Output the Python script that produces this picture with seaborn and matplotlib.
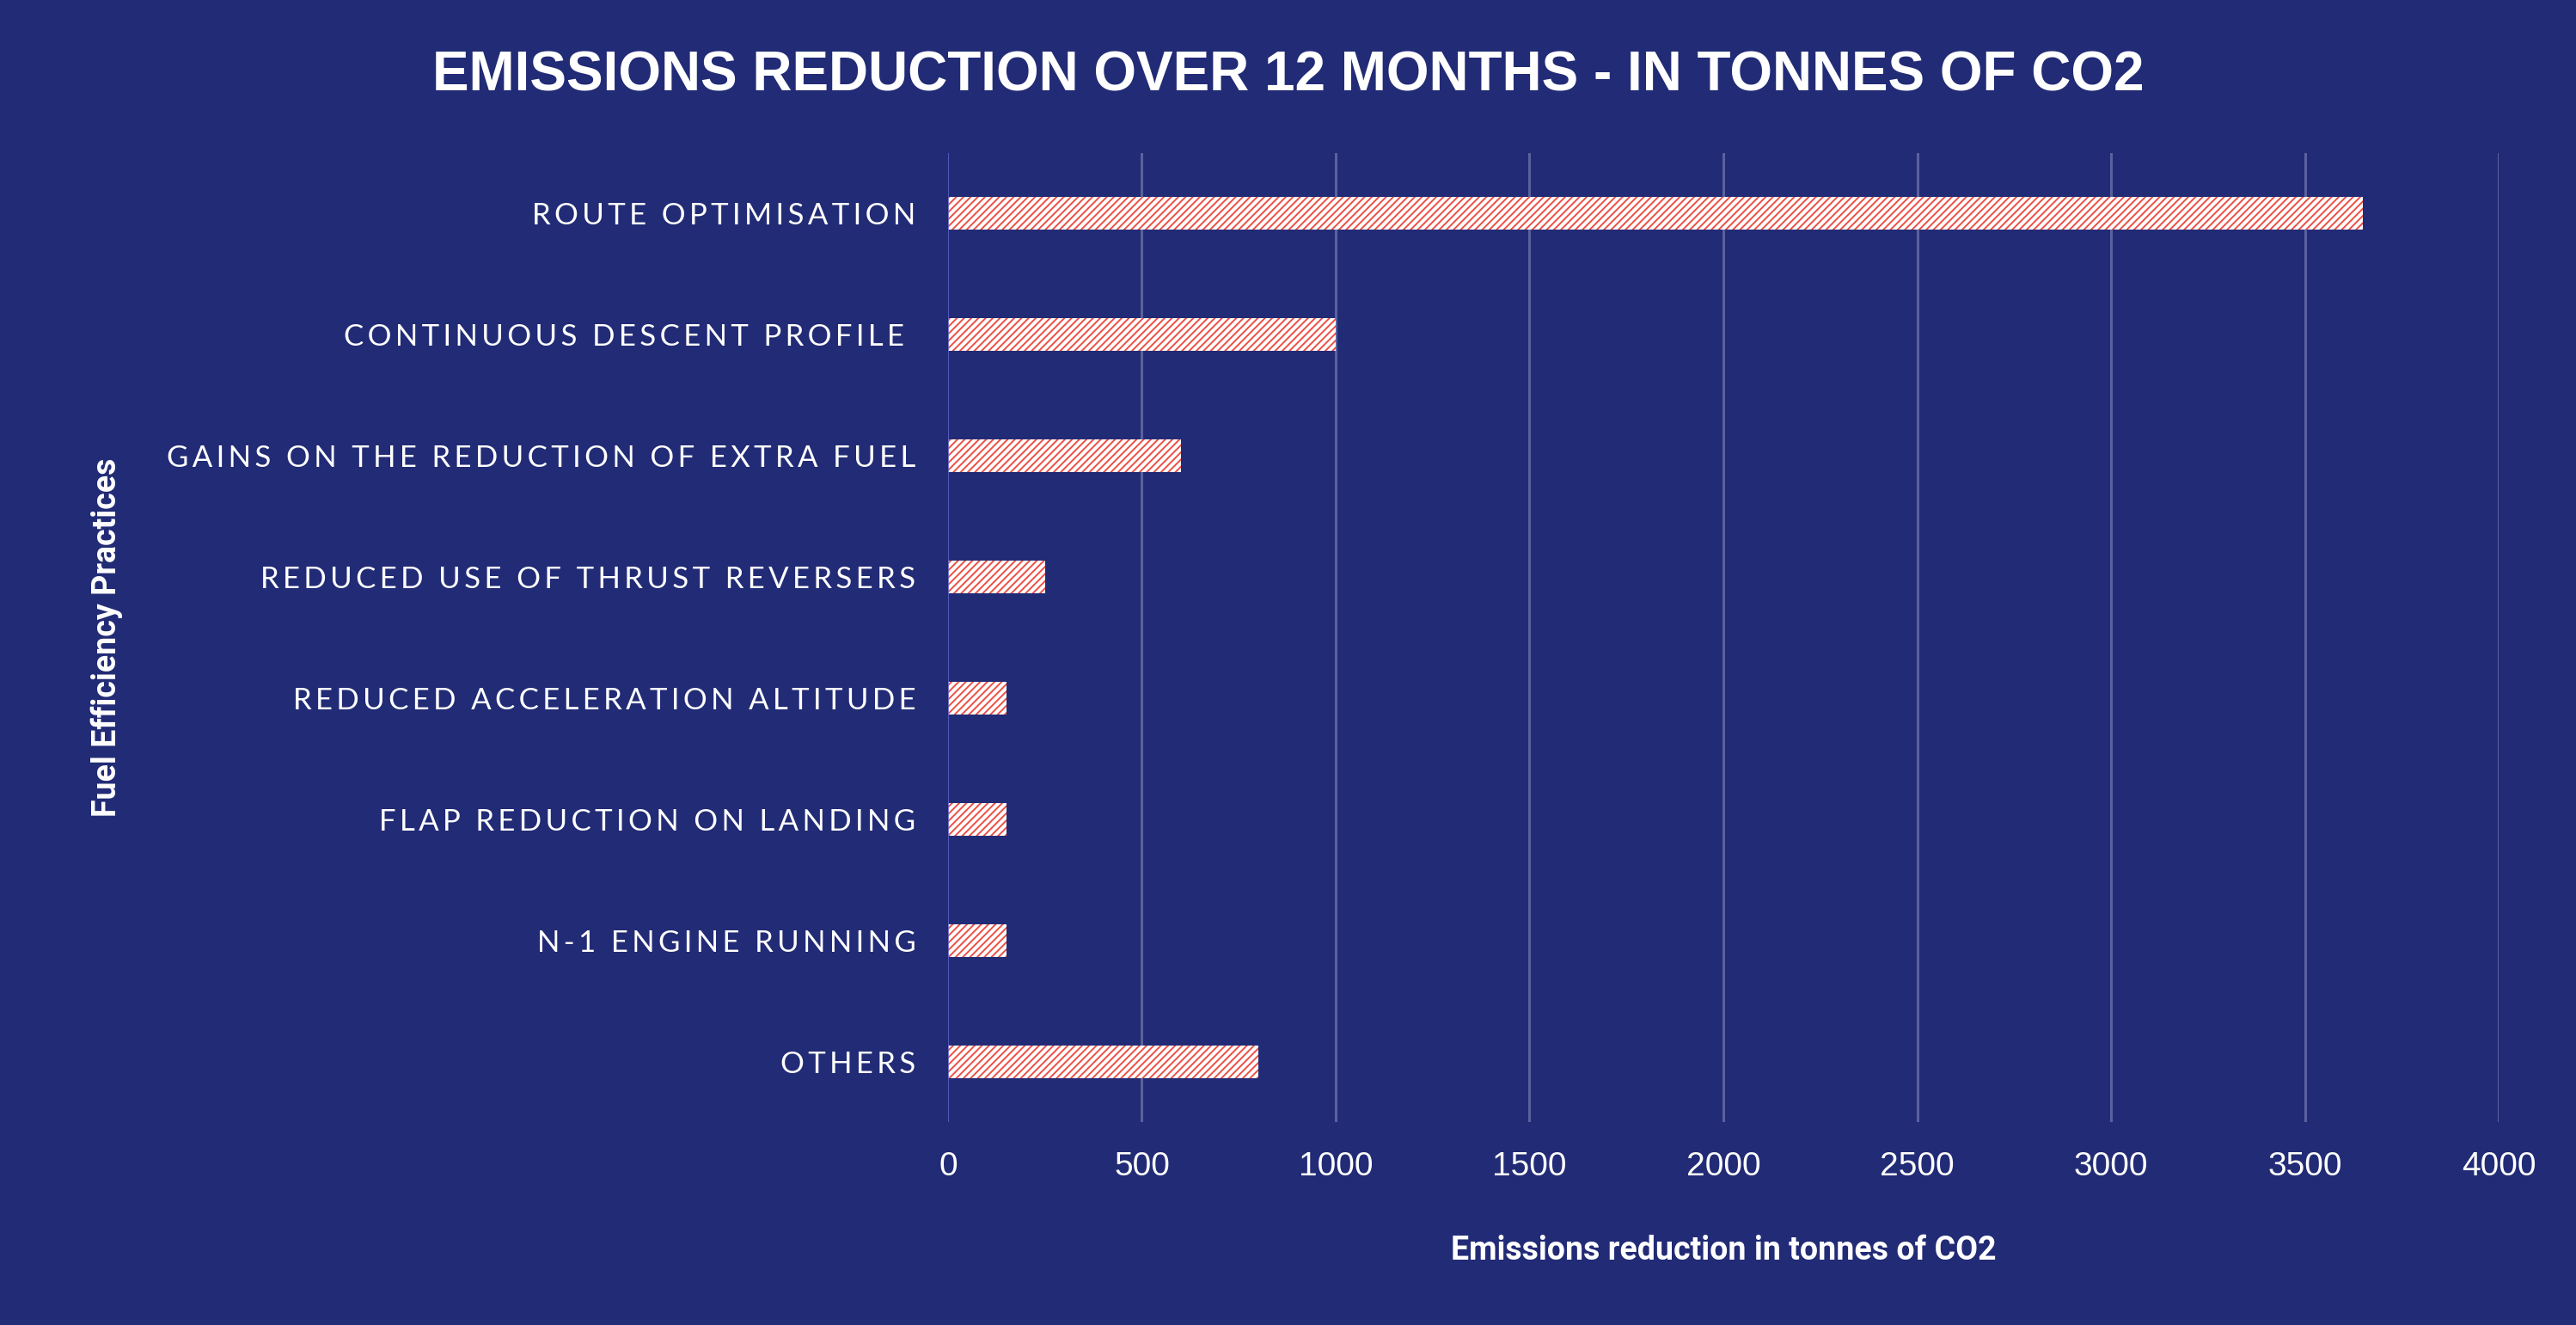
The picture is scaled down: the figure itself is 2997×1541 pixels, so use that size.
import numpy as np
import pandas as pd
import matplotlib
matplotlib.use("Agg")
import matplotlib.pyplot as plt
import seaborn as sns

# datos
practicas = [
    "ROUTE OPTIMISATION",
    "CONTINUOUS DESCENT PROFILE ",
    "GAINS ON THE REDUCTION OF EXTRA FUEL",
    "REDUCED USE OF THRUST REVERSERS",
    "REDUCED ACCELERATION ALTITUDE",
    "FLAP REDUCTION ON LANDING",
    "N-1 ENGINE RUNNING",
    "OTHERS",
]
reduccion = [3650, 1000, 600, 250, 150, 150, 150, 800]
xticks = [0, 500, 1000, 1500, 2000, 2500, 3000, 3500, 4000]

fondo = "#222B75"
rojo = "#EC4F45"


def espaciado(texto):
    # separacion entre letras (tracking) con espacio fino
    return "\u2009".join(texto)


sns.set_style("white")
plt.rcParams["font.family"] = ["Liberation Sans", "DejaVu Sans"]
plt.rcParams["hatch.color"] = rojo
plt.rcParams["hatch.linewidth"] = 1.4

df = pd.DataFrame({"practica": practicas, "reduccion": reduccion})

fig = plt.figure(figsize=(29.97, 15.41), dpi=100, facecolor=fondo)
ax = fig.add_axes([0.368, 0.153, 0.602, 0.7315])
ax.set_facecolor(fondo)

sns.barplot(data=df, x="reduccion", y="practica", orient="h", color="white",
            width=0.27, edgecolor="none", linewidth=0, ax=ax, zorder=3)
for p in ax.patches:
    p.set_hatch("////")
    p.set_edgecolor(rojo)
    p.set_linewidth(0)

ax.set_xlim(0, 4000)
ax.set_ylim(7.5, -0.5)
ax.set_xticks(xticks)
ax.set_xticklabels([str(t) for t in xticks])
ax.set_yticks(range(len(practicas)))
ax.set_yticklabels([espaciado(p) for p in practicas])
for t in xticks[1:]:
    ax.axvline(t, color="#5A619E", lw=2.2, zorder=1)
ax.axvline(0, color="#5E63C9", lw=1.2, zorder=4)

for s in ax.spines.values():
    s.set_visible(False)

ax.tick_params(axis="x", length=0, pad=24, labelsize=28, labelcolor="white")
ax.tick_params(axis="y", length=0, pad=27, labelcolor="white")
for lab in ax.get_yticklabels():
    lab.set_fontfamily(["Lato", "DejaVu Sans"])
    lab.set_fontweight("normal")
    lab.set_fontsize(25)
    lab.set_color("white")

ax.set_xlabel("Emissions reduction in tonnes of CO2", color="white", fontsize=27,
              fontweight="bold", family=["Roboto", "DejaVu Sans"], labelpad=44)
ax.set_ylabel("Fuel Efficiency Practices", color="white", fontsize=27,
              fontweight="bold", family=["Roboto", "DejaVu Sans"])
ax.yaxis.set_label_coords(-0.532, 0.5)

fig.suptitle("EMISSIONS REDUCTION OVER 12 MONTHS - IN TONNES OF CO2", x=0.5, y=0.962,
             color="white", fontsize=46, fontweight="bold")

fig.savefig("out.png", dpi=100, facecolor=fondo)
